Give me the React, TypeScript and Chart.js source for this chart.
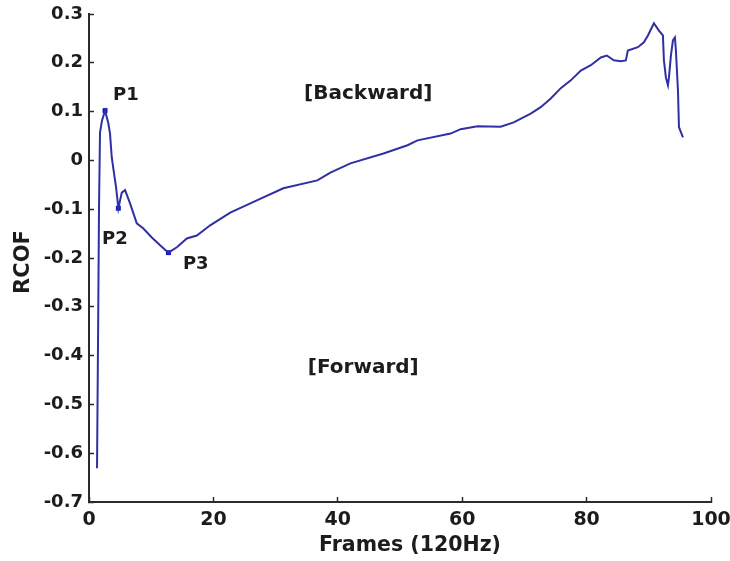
import { useEffect, useRef } from "react";
import { Chart, registerables } from "chart.js";

Chart.register(...registerables);

// RCOF trace sampled along the frame axis (120 Hz capture)
const frames = [
  1.29, 1.45, 1.61, 1.77, 2.09, 2.58, 3.11, 3.38, 3.66, 4.03, 4.35, 4.72, 5.27, 5.8, 6.6, 7.68, 8.7,
  10.1, 11.43, 12.77, 14.12, 15.73, 17.34, 19.48, 22.71, 25.93, 31.24, 36.71, 38.81, 42.03, 47.34,
  51.21, 52.82, 58.13, 59.74, 62.48, 66.18, 68.28, 71.01, 72.62, 74.24, 75.85, 77.46, 79.07, 80.68,
  82.29, 83.25, 84.38, 85.51, 86.31, 86.63, 88.24, 89.21, 89.86, 90.82, 91.63, 92.27, 92.43, 92.75,
  93.08, 93.24, 93.56, 93.88, 94.2, 94.36, 94.69, 94.85, 95.49,
];
const rcof = [
  -0.631, -0.373, -0.096, 0.057, 0.082, 0.102, 0.076, 0.055, 0.006, -0.027, -0.055, -0.098, -0.066,
  -0.061, -0.088, -0.129, -0.139, -0.158, -0.174, -0.189, -0.178, -0.16, -0.154, -0.133, -0.107,
  -0.088, -0.057, -0.041, -0.025, -0.006, 0.014, 0.031, 0.041, 0.055, 0.064, 0.07, 0.069, 0.078,
  0.096, 0.109, 0.127, 0.148, 0.164, 0.184, 0.195, 0.211, 0.215, 0.205, 0.203, 0.205, 0.225, 0.232,
  0.242, 0.256, 0.281, 0.266, 0.256, 0.205, 0.17, 0.154, 0.17, 0.215, 0.246, 0.252, 0.225, 0.143,
  0.068, 0.047,
];

// Key points P1..P3 and where their names sit
const keyNames = ["P1", "P2", "P3"];
const keyFrames = [2.58, 4.72, 12.77];
const keyValues = [0.102, -0.098, -0.189];
const keyLabelFrames = [3.86, 2.09, 15.1];
const keyLabelValues = [0.133, -0.162, -0.213];

// Region captions
const regionNames = ["[Backward]", "[Forward]"];
const regionFrames = [44.9, 44.1];
const regionValues = [0.137, -0.426];

const xTicks = [0, 20, 40, 60, 80, 100];
const yTicks = [0.3, 0.2, 0.1, 0, -0.1, -0.2, -0.3, -0.4, -0.5, -0.6, -0.7];

const xTitle = "Frames (120Hz)";
const yTitle = "RCOF";

const FONT = "'DejaVu Sans', sans-serif";
const INK = "#1c1c1c";

const textPlugin = {
  id: "chartText",
  afterDraw(chart: any) {
    const { ctx, scales } = chart;
    const xs = scales.x;
    const ys = scales.y;
    ctx.save();
    ctx.fillStyle = INK;
    ctx.textBaseline = "middle";

    ctx.font = `bold 18px ${FONT}`;
    ctx.textAlign = "left";
    keyNames.forEach((name, i) => {
      ctx.fillText(name, xs.getPixelForValue(keyLabelFrames[i]), ys.getPixelForValue(keyLabelValues[i]));
    });

    ctx.font = `bold 20px ${FONT}`;
    ctx.textAlign = "center";
    regionNames.forEach((name, i) => {
      ctx.fillText(name, xs.getPixelForValue(regionFrames[i]), ys.getPixelForValue(regionValues[i]));
    });

    // axis titles
    ctx.font = `bold 20.5px ${FONT}`;
    ctx.fillText(xTitle, 410, 546);
    ctx.translate(24, 262);
    ctx.rotate(-Math.PI / 2);
    ctx.font = `bold 21px ${FONT}`;
    ctx.fillText(yTitle, 0, 0);
    ctx.restore();
  },
};

export default function App() {
  const canvasRef = useRef<HTMLCanvasElement | null>(null);

  useEffect(() => {
    const canvas = canvasRef.current;
    if (!canvas) return;
    const chart = new Chart(canvas, {
      type: "line",
      data: {
        datasets: [
          {
            data: frames.map((f, i) => ({ x: f, y: rcof[i] })),
            borderColor: "#3030a2",
            borderWidth: 2,
            pointRadius: 0,
            tension: 0,
          },
          {
            data: keyFrames.map((f, i) => ({ x: f, y: keyValues[i] })),
            showLine: false,
            pointStyle: "rect",
            pointRadius: 3.5,
            pointBackgroundColor: "#1414c8",
            pointBorderColor: "#1414c8",
            pointBorderWidth: 0,
          },
        ],
      },
      options: {
        animation: false,
        responsive: false,
        devicePixelRatio: 1,
        layout: { padding: { left: 0, right: 19, top: 14, bottom: 0 } },
        plugins: { legend: { display: false }, tooltip: { enabled: false } },
        scales: {
          x: {
            type: "linear",
            min: 0,
            max: 100,
            afterBuildTicks: (s: any) => {
              s.ticks = xTicks.map((v) => ({ value: v }));
            },
            afterFit: (s: any) => {
              s.height = 59;
              s.paddingLeft = 0;
              s.paddingRight = 0;
            },
            grid: { drawOnChartArea: false, drawTicks: true, tickLength: -5, tickColor: "#2a2a2a", tickWidth: 1.5 },
            border: { display: true, color: "#2a2a2a", width: 2 },
            ticks: {
              padding: 12,
              color: INK,
              font: { family: FONT, size: 19, weight: "bold" },
              maxRotation: 0,
              autoSkip: false,
            },
          },
          y: {
            type: "linear",
            min: -0.7,
            max: 0.3,
            afterBuildTicks: (s: any) => {
              s.ticks = yTicks.map((v) => ({ value: v }));
            },
            afterFit: (s: any) => {
              s.width = 89;
              s.paddingTop = 0;
              s.paddingBottom = 0;
            },
            grid: { drawOnChartArea: false, drawTicks: true, tickLength: -5, tickColor: "#2a2a2a", tickWidth: 1.5 },
            border: { display: true, color: "#2a2a2a", width: 2 },
            ticks: {
              padding: 11,
              color: INK,
              font: { family: FONT, size: 18, weight: "bold" },
              autoSkip: false,
              callback: (v: any) => String(Number(Number(v).toFixed(1))),
            },
          },
        },
      },
      plugins: [textPlugin],
    });
    return () => chart.destroy();
  }, []);

  return (
    <div style={{ position: "fixed", left: 0, top: 0, width: 730, height: 561, background: "#fff" }}>
      <canvas ref={canvasRef} width={730} height={561} style={{ display: "block" }} />
    </div>
  );
}
